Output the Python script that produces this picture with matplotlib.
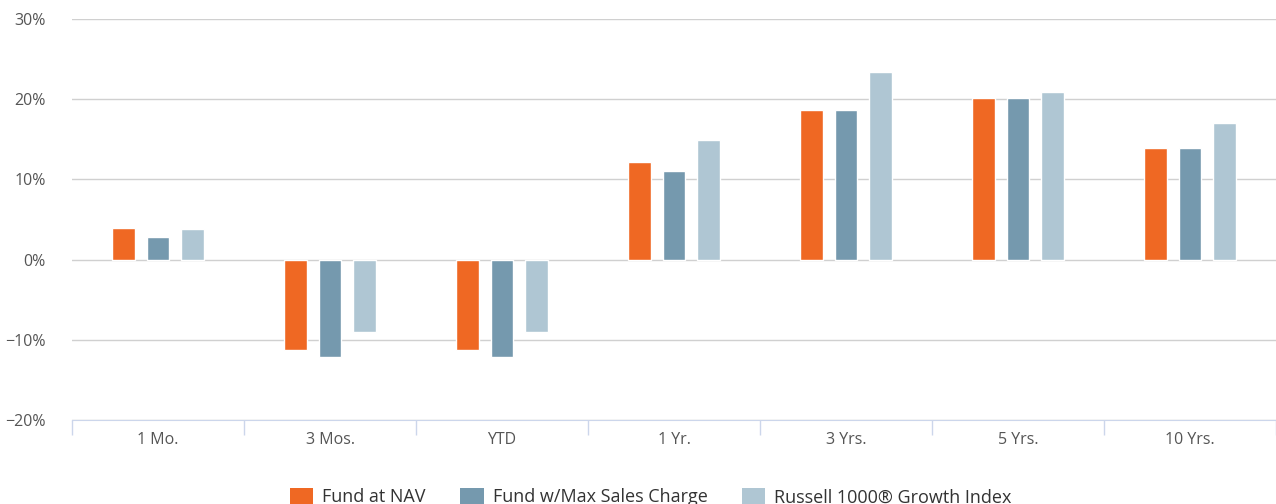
import matplotlib.pyplot as plt
import numpy as np
from matplotlib.patches import Patch

# -----------------------
# Data (annualized returns, %)
# -----------------------
periods = ["1 Mo.", "3 Mos.", "YTD", "1 Yr.", "3 Yrs.", "5 Yrs.", "10 Yrs."]
fund_nav = [4.0, -11.25, -11.25, 12.2, 18.6, 20.2, 13.9]
fund_max_charge = [2.8, -12.2, -12.2, 11.1, 18.6, 20.2, 13.9]
russell_growth = [3.8, -9.0, -9.0, 14.9, 23.4, 20.9, 17.0]
series_names = ["Fund at NAV", "Fund w/Max Sales Charge", "Russell 1000\u00ae Growth Index"]
colors = ["#ef6823", "#7599ae", "#afc6d3"]
yticks = [-20, -10, 0, 10, 20, 30]

plt.rcParams["font.family"] = ["Open Sans", "DejaVu Sans"]

fig = plt.figure(figsize=(12.76, 5.04), dpi=100)
ax = fig.add_axes([72 / 1276, 1 - 420 / 504, 1 - 72 / 1276, 401 / 504])

x = np.arange(len(periods))
width = 0.13
offset = 0.2
for i, (vals, c, name) in enumerate(zip([fund_nav, fund_max_charge, russell_growth], colors, series_names)):
    ax.bar(x + (i - 1) * offset, vals, width=width, color=c, edgecolor="white",
           linewidth=1, label=name, zorder=3)

ax.set_xlim(-0.5, len(periods) - 0.5)
ax.set_ylim(-20, 30)
ax.set_yticks(yticks)
ax.set_yticklabels([f"{v}%".replace("-", "\u2212") for v in yticks])
ax.yaxis.grid(True, color="#d0d0d0", linewidth=1)
ax.set_axisbelow(True)

ax.set_xticks(x)
ax.set_xticklabels(periods)
ax.set_xticks(np.arange(len(periods) + 1) - 0.5, minor=True)
ax.tick_params(axis="x", which="major", length=0, pad=9, labelsize=11.5, labelcolor="#555555")
ax.tick_params(axis="x", which="minor", length=11, color="#ccd6eb", width=1)
ax.tick_params(axis="y", length=0, pad=19, labelsize=11.5, labelcolor="#555555")

for s in ["top", "right", "left"]:
    ax.spines[s].set_visible(False)
ax.spines["bottom"].set_color("#ccd6eb")
ax.spines["bottom"].set_position(("data", -20))

handles = [Patch(facecolor=c, edgecolor="none") for c in colors]
fig.legend(handles, series_names, loc="center", bbox_to_anchor=(0.51, 1 - 497 / 504),
           ncol=3, frameon=False, fontsize=13, labelcolor="#333333",
           handlelength=1.3, handleheight=1.1, handletextpad=0.5, columnspacing=1.9)

fig.savefig("out.png", dpi=100)
